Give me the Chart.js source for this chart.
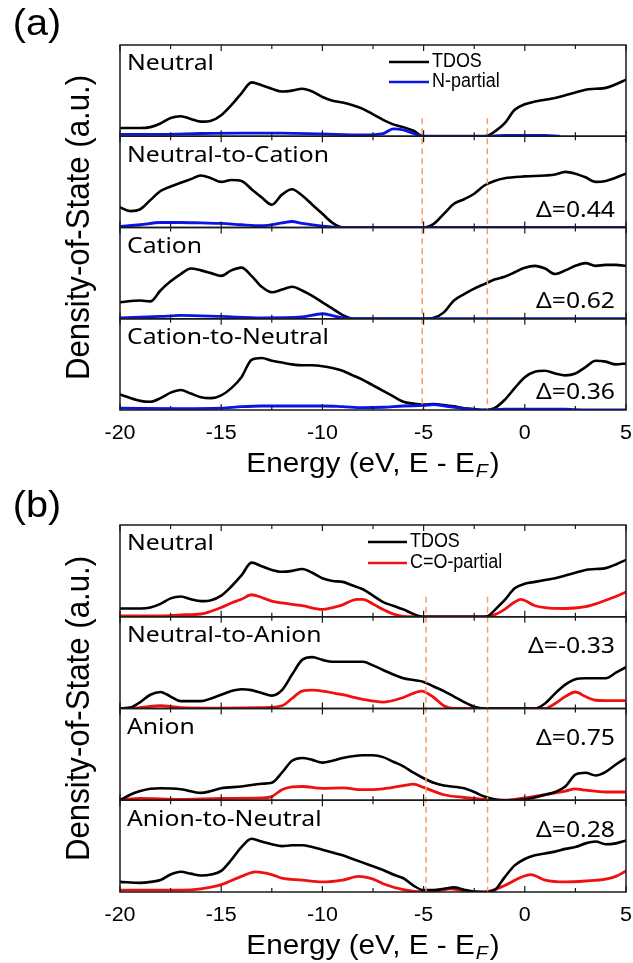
<!DOCTYPE html>
<html><head><meta charset="utf-8">
<script src="https://cdn.jsdelivr.net/npm/chart.js@4.4.1/dist/chart.umd.min.js"></script>
<style>
html,body{margin:0;padding:0;background:#fff;width:633px;height:963px;overflow:hidden}
canvas{position:absolute;left:0}
#ca{top:0}
#cb{top:480px}
</style></head>
<body>
<canvas id="ca" width="633" height="480"></canvas>
<canvas id="cb" width="633" height="483"></canvas>
<script>
// ---------- axis / label data ----------
const xMajorTicks = [-20, -15, -10, -5, 0, 5];
const xMinorTicks = [-17.5, -12.5, -7.5, -2.5, 2.5];
const gapLinesA = [-5.07, -1.85];
const gapLinesB = [-4.88, -1.84];
const namesA = ['Neutral', 'Neutral-to-Cation', 'Cation', 'Cation-to-Neutral'];
const deltasA = ['', 'Δ=0.44', 'Δ=0.62', 'Δ=0.36'];
const namesB = ['Neutral', 'Neutral-to-Anion', 'Anion', 'Anion-to-Neutral'];
const deltasB = ['', 'Δ=-0.33', 'Δ=0.75', 'Δ=0.28'];
const legendA = ['TDOS', 'N-partial'];
const legendB = ['TDOS', 'C=O-partial'];

// ---------- panel (a) : [energy, DOS] ----------
const tdosNeutralA = [[-20,0.09],[-19,0.09],[-18.5,0.10],[-18,0.14],[-17.5,0.20],[-17,0.22],[-16.5,0.19],[-16,0.16],[-15.5,0.17],[-15,0.23],[-14.5,0.34],[-14,0.47],[-13.5,0.59],[-13,0.56],[-12.5,0.52],[-12,0.49],[-11.5,0.50],[-11,0.52],[-10.5,0.49],[-10,0.43],[-9.5,0.39],[-9,0.37],[-8.5,0.34],[-8,0.30],[-7.5,0.24],[-7,0.18],[-6.5,0.13],[-6,0.10],[-5.5,0.06],[-5,0],[-4,0],[-3,0],[-2,0],[-1.8,0.01],[-1.5,0.05],[-1,0.14],[-0.5,0.29],[0,0.35],[0.5,0.38],[1,0.40],[1.5,0.42],[2,0.45],[2.5,0.48],[3,0.51],[3.5,0.52],[4,0.53],[4.5,0.57],[5,0.62]];
const nNeutralA = [[-20,0.02],[-18,0.02],[-16,0.03],[-14,0.035],[-12,0.035],[-10,0.025],[-8,0.015],[-7,0.03],[-6.5,0.08],[-6,0.07],[-5.5,0.03],[-5,0],[-2,0],[-1,0.01],[0,0.01],[1,0.01],[1.7,0]];
const tdosNtoCA = [[-20,0.22],[-19.5,0.18],[-19,0.20],[-18.5,0.30],[-18,0.40],[-17.5,0.45],[-17,0.49],[-16.5,0.53],[-16,0.57],[-15.5,0.54],[-15,0.50],[-14.5,0.52],[-14,0.51],[-13.5,0.42],[-13,0.33],[-12.5,0.25],[-12,0.36],[-11.5,0.42],[-11,0.35],[-10.5,0.25],[-10,0.15],[-9.5,0.05],[-9,0],[-5,0],[-4.5,0.04],[-4,0.15],[-3.5,0.26],[-3,0.31],[-2.5,0.37],[-2,0.46],[-1.5,0.51],[-1,0.54],[0,0.56],[1,0.57],[1.5,0.58],[2,0.61],[2.5,0.59],[3,0.55],[3.5,0.50],[4,0.51],[5,0.59]];
const nNtoCA = [[-20,0.01],[-19,0.03],[-18,0.055],[-17,0.055],[-16,0.05],[-15,0.045],[-14,0.03],[-13,0.02],[-12,0.05],[-11.5,0.066],[-11,0.045],[-10,0.015],[-9,0],[5,0]];
const tdosCationA = [[-20,0.18],[-19,0.20],[-18.5,0.19],[-18,0.31],[-17.5,0.41],[-17,0.49],[-16.5,0.55],[-16,0.53],[-15.5,0.50],[-15,0.47],[-14.5,0.53],[-14,0.56],[-13.5,0.47],[-13,0.35],[-12.5,0.29],[-12,0.32],[-11.5,0.35],[-11,0.31],[-10.5,0.25],[-10,0.18],[-9.5,0.11],[-9,0.04],[-8.5,0],[-5,0],[-4.5,0.01],[-4,0.07],[-3.5,0.20],[-3,0.27],[-2.5,0.33],[-2,0.38],[-1.5,0.43],[-1,0.46],[-0.5,0.51],[0,0.56],[0.5,0.58],[1,0.55],[1.5,0.49],[2,0.53],[2.5,0.58],[3,0.61],[3.5,0.58],[4,0.59],[4.5,0.59],[5,0.58]];
const nCationA = [[-20,0.01],[-18,0.025],[-17,0.036],[-15,0.025],[-13,0.01],[-11,0.02],[-10,0.055],[-9.5,0.035],[-9,0.01],[-8.5,0],[5,0]];
const tdosCtoNA = [[-20,0.17],[-19,0.10],[-18.5,0.09],[-18,0.13],[-17.5,0.19],[-17,0.22],[-16.5,0.18],[-16,0.14],[-15.5,0.13],[-15,0.16],[-14.5,0.24],[-14,0.36],[-13.5,0.55],[-13,0.57],[-12.5,0.54],[-12,0.52],[-11.5,0.50],[-11,0.49],[-10.5,0.49],[-10,0.48],[-9.5,0.46],[-9,0.43],[-8.5,0.38],[-8,0.33],[-7.5,0.27],[-7,0.21],[-6.5,0.15],[-6,0.09],[-5.5,0.07],[-5,0.06],[-4.5,0.065],[-4,0.055],[-3.5,0.04],[-3,0.02],[-2.5,0.01],[-2,0],[-1.5,0.02],[-1,0.11],[-0.5,0.24],[0,0.36],[0.5,0.42],[1,0.43],[1.5,0.40],[2,0.38],[2.5,0.40],[3,0.47],[3.5,0.54],[4,0.53],[4.5,0.50],[5,0.51]];
const nCtoNA = [[-20,0.02],[-17,0.015],[-15,0.02],[-14,0.036],[-13,0.044],[-10,0.044],[-9,0.036],[-8,0.025],[-7,0.03],[-6,0.044],[-5,0.05],[-4.5,0.06],[-4,0.045],[-3,0.015],[-2,0],[-1,0.01],[1,0.01],[2,0.01],[3,0],[5,0]];

// ---------- panel (b) ----------
const tdosNeutralB = [[-20,0.09],[-19,0.09],[-18.5,0.10],[-18,0.14],[-17.5,0.20],[-17,0.22],[-16.5,0.19],[-16,0.17],[-15.5,0.18],[-15,0.23],[-14.5,0.33],[-14,0.45],[-13.5,0.59],[-13,0.55],[-12.5,0.51],[-12,0.49],[-11.5,0.50],[-11,0.52],[-10.5,0.48],[-10,0.42],[-9.5,0.39],[-9,0.38],[-8.5,0.34],[-8,0.30],[-7.5,0.23],[-7,0.16],[-6.5,0.12],[-6,0.08],[-5.5,0.03],[-5,0],[-2,0],[-1.8,0.01],[-1.5,0.07],[-1,0.18],[-0.5,0.31],[0,0.36],[0.5,0.38],[1,0.40],[1.5,0.42],[2,0.45],[2.5,0.48],[3,0.51],[3.5,0.52],[4,0.53],[4.5,0.57],[5,0.62]];
const coNeutralB = [[-20,0.01],[-18,0.01],[-17,0.02],[-16,0.03],[-15.5,0.06],[-15,0.10],[-14.5,0.15],[-14,0.19],[-13.5,0.24],[-13,0.21],[-12.5,0.17],[-12,0.15],[-11,0.12],[-10,0.08],[-9.5,0.10],[-9,0.13],[-8.5,0.18],[-8.3,0.19],[-8,0.19],[-7.5,0.14],[-7,0.08],[-6.5,0.03],[-6,0.005],[-5.5,0],[-2,0],[-1.5,0.02],[-1,0.08],[-0.5,0.16],[-0.2,0.19],[0.5,0.12],[1,0.10],[2,0.09],[3,0.11],[3.5,0.14],[4,0.18],[4.5,0.22],[5,0.27]];
const tdosNtoAB = [[-20,0],[-19.5,0.01],[-19,0.07],[-18.5,0.15],[-18,0.18],[-17.5,0.13],[-17,0.08],[-16,0.08],[-15.5,0.11],[-15,0.15],[-14.5,0.19],[-14,0.21],[-13.5,0.20],[-13,0.17],[-12.5,0.14],[-12,0.20],[-11.5,0.37],[-11,0.53],[-10.5,0.56],[-10,0.53],[-9.5,0.51],[-9,0.51],[-8.5,0.51],[-8,0.51],[-7.5,0.47],[-7,0.42],[-6.5,0.37],[-6,0.33],[-5.5,0.31],[-5,0.29],[-4.5,0.24],[-4,0.19],[-3.5,0.13],[-3,0.07],[-2.5,0.02],[-2,0],[0.5,0],[1,0.055],[1.5,0.165],[2,0.26],[2.5,0.32],[3,0.33],[3.5,0.33],[4,0.33],[4.5,0.39],[5,0.45]];
const coNtoAB = [[-20,0],[-19,0.01],[-18,0.03],[-17,0.01],[-15,0.005],[-13,0.01],[-12,0.03],[-11.5,0.11],[-11,0.19],[-10.5,0.20],[-10,0.19],[-9,0.15],[-8,0.10],[-7,0.07],[-6,0.12],[-5.1,0.19],[-4.5,0.12],[-4,0.03],[-3.5,0],[1,0],[1.5,0.055],[2,0.13],[2.5,0.18],[3,0.13],[3.5,0.09],[4,0.085],[5,0.085]];
const tdosAnionB = [[-20,0],[-19.5,0.06],[-19,0.10],[-18.5,0.125],[-18,0.13],[-17,0.12],[-16,0.08],[-15.5,0.10],[-15,0.13],[-14,0.15],[-13,0.18],[-12.5,0.19],[-12,0.30],[-11.5,0.43],[-11,0.46],[-10.5,0.44],[-10,0.41],[-9.5,0.43],[-9,0.46],[-8,0.49],[-7.5,0.49],[-7,0.47],[-6.5,0.42],[-6,0.37],[-5.5,0.30],[-5,0.24],[-4.5,0.19],[-4,0.16],[-3,0.13],[-2.5,0.09],[-2,0.04],[-1.5,0.01],[-1,0],[0,0.01],[1,0.06],[1.5,0.09],[2,0.15],[2.5,0.28],[3,0.30],[3.5,0.27],[4,0.31],[4.5,0.39],[5,0.46]];
const coAnionB = [[-20,0],[-19,0.02],[-17,0.01],[-15,0.02],[-13,0.025],[-12.5,0.04],[-12,0.115],[-11.5,0.145],[-11,0.15],[-10,0.13],[-9,0.135],[-8,0.115],[-7,0.125],[-6,0.16],[-5.5,0.175],[-5,0.14],[-4,0.06],[-3,0.03],[-2,0.01],[-1,0],[0,0.025],[1,0.06],[2,0.10],[2.5,0.125],[3,0.11],[4,0.09],[5,0.09]];
const tdosAtoNB = [[-20,0.11],[-19,0.10],[-18.5,0.11],[-18,0.13],[-17.5,0.19],[-17,0.22],[-16.5,0.20],[-16,0.18],[-15.5,0.19],[-15,0.23],[-14.5,0.35],[-14,0.49],[-13.5,0.58],[-13,0.55],[-12.5,0.52],[-12,0.50],[-11.5,0.51],[-11,0.51],[-10.5,0.49],[-10,0.46],[-9.5,0.43],[-9,0.40],[-8.5,0.36],[-8,0.32],[-7.5,0.28],[-7,0.24],[-6.5,0.19],[-6,0.15],[-5.5,0.07],[-5,0.02],[-4.5,0.02],[-4,0.035],[-3.5,0.05],[-3,0.025],[-2.5,0.005],[-2,0],[-1.5,0.02],[-1,0.16],[-0.5,0.29],[0,0.36],[0.5,0.40],[1,0.42],[1.5,0.44],[2,0.47],[2.5,0.49],[3,0.53],[3.5,0.55],[4,0.52],[4.5,0.53],[5,0.56]];
const coAtoNB = [[-20,0.02],[-18,0.02],[-17,0.02],[-16,0.035],[-15,0.08],[-14,0.17],[-13.3,0.22],[-12.5,0.19],[-12,0.15],[-11,0.13],[-10,0.11],[-9,0.13],[-8.2,0.17],[-7.5,0.14],[-7,0.09],[-6,0.025],[-5,0],[-4,0.025],[-3.7,0.035],[-3,0.01],[-2,0],[-1,0.07],[-0.3,0.15],[0.3,0.19],[1,0.13],[2,0.11],[3,0.12],[4,0.14],[4.5,0.17],[5,0.23]];

// ---------- helpers ----------
const SANS = '"Liberation Sans", Arial, sans-serif';
const LABEL = '"Noto Sans", "Open Sans", sans-serif';
const SX = 1.1;
const toXY = arr => arr.map(p => ({x: p[0], y: p[1]}));

function drawText(ctx, text, x, y, font, align, sx) {
  ctx.save();
  ctx.font = font; ctx.fillStyle = '#000'; ctx.textBaseline = 'middle'; ctx.textAlign = 'left';
  const w = ctx.measureText(text).width * sx;
  const x0 = align === 'left' ? x : (align === 'right' ? x - w : x - w / 2);
  ctx.translate(x0, y); ctx.scale(sx, 1); ctx.fillText(text, 0, 0);
  ctx.restore();
  return w;
}

const decor = {
  id: 'decor',
  afterDatasetsDraw(chart, args, o) {
    const ctx = chart.ctx;
    const xs = chart.scales.x;
    const ys = ['y0', 'y1', 'y2', 'y3'].map(id => chart.scales[id]);
    ctx.save();
    // dashed guide lines
    ctx.strokeStyle = '#F29E68'; ctx.lineWidth = 1.5; ctx.setLineDash([6, 4]);
    o.gaps.forEach(v => {
      const px = xs.getPixelForValue(v);
      ctx.beginPath(); ctx.moveTo(px, ys[0].bottom - o.gapStart); ctx.lineTo(px, ys[3].bottom); ctx.stroke();
    });
    ctx.setLineDash([]);
    // frames and inward ticks
    ctx.strokeStyle = '#1a1a1a'; ctx.lineWidth = 1.5;
    ys.forEach(s => {
      ctx.strokeRect(xs.left, s.top, xs.right - xs.left, s.bottom - s.top);
      ctx.lineWidth = 1.2;
      const tk = (v, len) => {
        const px = xs.getPixelForValue(v);
        ctx.beginPath(); ctx.moveTo(px, s.bottom); ctx.lineTo(px, s.bottom - len);
        ctx.moveTo(px, s.top); ctx.lineTo(px, s.top + len); ctx.stroke();
      };
      xMajorTicks.forEach(v => tk(v, 6));
      xMinorTicks.forEach(v => tk(v, 4));
      ctx.lineWidth = 1.5;
    });
    // subplot names and deltas
    ys.forEach((s, i) => {
      drawText(ctx, o.names[i], xs.left + 7, s.top + 19, '22.5px ' + LABEL, 'left', SX);
      if (o.deltas[i]) {
        const y = o.deltaAtTop ? s.top + 30 : s.bottom - 17;
        drawText(ctx, o.deltas[i], xs.right - 11, y, '22.5px ' + LABEL, 'right', SX);
      }
    });
    // legend
    const lg = o.legend;
    [['#000', lg.labels[0]], [o.partialColor, lg.labels[1]]].forEach((it, k) => {
      const y = lg.y + k * lg.dy;
      ctx.strokeStyle = it[0]; ctx.lineWidth = 2.6;
      ctx.beginPath(); ctx.moveTo(lg.x, y); ctx.lineTo(lg.x + lg.len, y); ctx.stroke();
      drawText(ctx, it[1], lg.x + lg.len + 3, y, '19.5px ' + SANS, 'left', 0.92);
    });
    // x tick labels
    xMajorTicks.forEach(v => {
      drawText(ctx, String(v), xs.getPixelForValue(v), ys[3].bottom + o.tickGap, '19.5px ' + SANS, 'center', SX);
    });
    // x title with subscript
    const ty = ys[3].bottom + o.titleGap;
    const TF = '27px ' + SANS, SF = 'italic 18px ' + SANS;
    const main = 'Energy (eV, E - E';
    ctx.font = TF;
    const w1 = ctx.measureText(main).width * SX;
    const w3 = ctx.measureText(')').width * SX;
    ctx.font = SF;
    const w2 = ctx.measureText('F').width * SX;
    const cx = (xs.left + xs.right) / 2;
    const x0 = cx - (w1 + w2 + w3 + 3) / 2;
    drawText(ctx, main, x0, ty, TF, 'left', SX);
    drawText(ctx, 'F', x0 + w1 + 1, ty + 7, SF, 'left', SX);
    drawText(ctx, ')', x0 + w1 + w2 + 3, ty, TF, 'left', SX);
    // y title
    ctx.save();
    ctx.translate(o.yTitleX, (ys[0].top + ys[3].bottom) / 2);
    ctx.rotate(-Math.PI / 2);
    ctx.font = '30px ' + SANS; ctx.fillStyle = '#000'; ctx.textAlign = 'center'; ctx.textBaseline = 'middle';
    ctx.scale(1.04, SX);
    ctx.fillText('Density-of-State (a.u.)', 0, 0);
    ctx.restore();
    // panel letter
    drawText(ctx, o.letter, o.letterX, o.letterY, '36px ' + SANS, 'center', SX);
    ctx.restore();
  }
};

function buildPanel(id, cfg) {
  const yIds = ['y0', 'y1', 'y2', 'y3'];
  const datasets = [];
  cfg.tdos.forEach((arr, i) => datasets.push({
    label: 'TDOS', data: toXY(arr), yAxisID: yIds[i], borderColor: '#000', borderWidth: 2.6,
    order: cfg.tdosOrder
  }));
  cfg.partial.forEach((arr, i) => datasets.push({
    label: cfg.legend.labels[1], data: toXY(arr), yAxisID: yIds[i], borderColor: cfg.partialColor, borderWidth: 2.8,
    order: 1 - cfg.tdosOrder
  }));
  const scales = {
    x: {
      type: 'linear', min: -20, max: 5, position: 'bottom',
      grid: {display: false, drawTicks: false}, border: {display: false},
      ticks: {display: false, stepSize: 5},
      afterFit: s => { s.height = cfg.xAxisH; s.paddingLeft = 0; s.paddingRight = 0; }
    }
  };
  yIds.forEach((yid, i) => {
    scales[yid] = {
      type: 'linear', min: 0, max: 1, position: 'left', stack: 'panel', stackWeight: 1, weight: 4 - i,
      grid: {display: false, drawTicks: false}, border: {display: false}, ticks: {display: false},
      afterFit: s => { s.width = 0; }
    };
  });
  return new Chart(document.getElementById(id), {
    type: 'line',
    data: {datasets},
    options: {
      responsive: false, animation: false, events: [], devicePixelRatio: 1,
      layout: {padding: {left: 120, right: 7, top: cfg.top, bottom: 0}},
      elements: {point: {radius: 0}, line: {cubicInterpolationMode: 'monotone', fill: false, borderJoinStyle: 'round', borderCapStyle: 'round'}},
      scales,
      plugins: {
        legend: {display: false}, tooltip: {enabled: false},
        decor: {
          gaps: cfg.gaps, gapStart: cfg.gapStart, names: cfg.names, deltas: cfg.deltas, deltaAtTop: cfg.deltaAtTop,
          legend: cfg.legend, partialColor: cfg.partialColor, tickGap: 24, titleGap: 55,
          yTitleX: 80, letter: cfg.letter, letterX: 37, letterY: cfg.letterY
        }
      }
    },
    plugins: [decor]
  });
}

buildPanel('ca', {
  tdos: [tdosNeutralA, tdosNtoCA, tdosCationA, tdosCtoNA],
  partial: [nNeutralA, nNtoCA, nCationA, nCtoNA],
  partialColor: '#0a14e6', tdosOrder: 1,
  gaps: gapLinesA, gapStart: 18, names: namesA, deltas: deltasA, deltaAtTop: false,
  legend: {labels: legendA, x: 389, y: 62, dy: 20, len: 40},
  top: 45, xAxisH: 70, letter: '(a)', letterY: 25
});
buildPanel('cb', {
  tdos: [tdosNeutralB, tdosNtoAB, tdosAnionB, tdosAtoNB],
  partial: [coNeutralB, coNtoAB, coAnionB, coAtoNB],
  partialColor: '#f01010', tdosOrder: 0,
  gaps: gapLinesB, gapStart: 20, names: namesB, deltas: deltasB, deltaAtTop: true,
  legend: {labels: legendB, x: 368, y: 62, dy: 21, len: 39},
  top: 45, xAxisH: 71, letter: '(b)', letterY: 27
});
</script>
</body></html>
